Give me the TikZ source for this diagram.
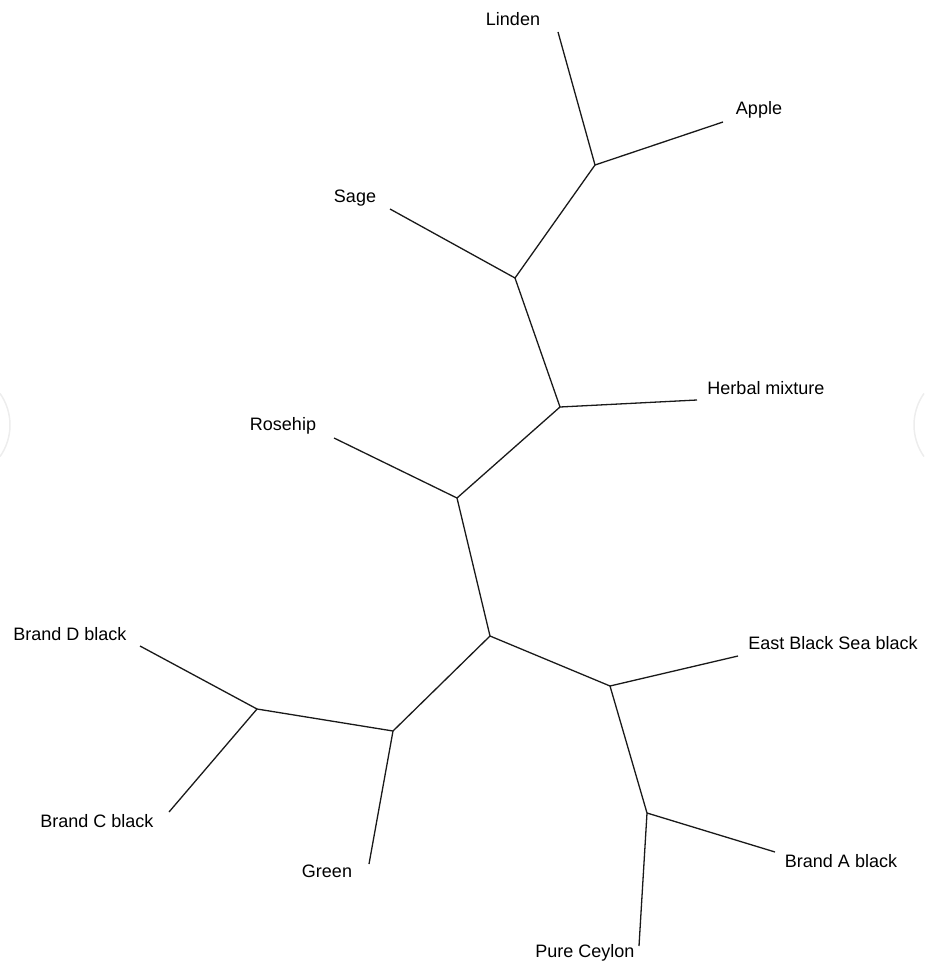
\documentclass[tikz,border=0pt]{standalone}
\usepackage{fontspec}
\setmainfont{Liberation Sans}
\usetikzlibrary{positioning}

\begin{document}
\begin{tikzpicture}[x=1pt,y=-1pt,
  every node/.style={font=\fontsize{18}{20}\selectfont,inner sep=0pt},
  e/.style={line width=1.3pt,draw=black!90},
  ghost/.style={line width=1.5pt,draw=black!7}]
\useasboundingbox (0,0) rectangle (924,968);
% inner junctions
\coordinate (TeaJ1) at (595,165);
\coordinate (TeaJ2) at (515,278);
\coordinate (TeaJ3) at (560,407);
\coordinate (TeaJ4) at (457,498);
\coordinate (TeaJ5) at (490,636);
\coordinate (TeaJ6) at (393,731);
\coordinate (TeaJ7) at (257,709);
\coordinate (TeaJ8) at (610,686);
\coordinate (TeaJ9) at (647,813);
% leaf ends
\coordinate (TeaLindenEnd) at (558,32);
\coordinate (TeaAppleEnd) at (723,122);
\coordinate (TeaSageEnd) at (390,209);
\coordinate (TeaHerbalEnd) at (697,400);
\coordinate (TeaRosehipEnd) at (334,438);
\coordinate (TeaBrandDEnd) at (140,646);
\coordinate (TeaBrandCEnd) at (169,812);
\coordinate (TeaGreenEnd) at (369,864);
\coordinate (TeaEastEnd) at (738,656);
\coordinate (TeaBrandAEnd) at (775,852);
\coordinate (TeaCeylonEnd) at (639,946);
% labels
\node (TeaLinden) at (513,19) {Linden};
\node (TeaApple) at (759,110) {Apple};
\node (TeaSage) at (355,198) {Sage};
\node (TeaHerbal) at (766,388) {Herbal mixture};
\node (TeaRosehip) at (283,426) {Rosehip};
\node (TeaBrandD) at (70,634) {Brand D black};
\node (TeaBrandC) at (97,821) {Brand C black};
\node (TeaGreen) at (327,871) {Green};
\node (TeaEast) at (833,643) {East Black Sea black};
\node (TeaBrandA) at (841,861) {Brand A black};
\node (TeaCeylon) at (585,953) {Pure Ceylon};
% faint marks at the edges
\draw[ghost] (-45,425) ++(-35:55) arc[start angle=-35,end angle=35,radius=55];
\draw[ghost] (969,425) ++(145:55) arc[start angle=145,end angle=215,radius=55];
% tree
\draw[e] (TeaJ1) -- (TeaLindenEnd);
\draw[e] (TeaJ1) -- (TeaAppleEnd);
\draw[e] (TeaJ2) -- (TeaJ1);
\draw[e] (TeaJ2) -- (TeaSageEnd);
\draw[e] (TeaJ3) -- (TeaJ2);
\draw[e] (TeaJ3) -- (TeaHerbalEnd);
\draw[e] (TeaJ4) -- (TeaJ3);
\draw[e] (TeaJ4) -- (TeaRosehipEnd);
\draw[e] (TeaJ5) -- (TeaJ4);
\draw[e] (TeaJ5) -- (TeaJ6);
\draw[e] (TeaJ6) -- (TeaJ7);
\draw[e] (TeaJ7) -- (TeaBrandDEnd);
\draw[e] (TeaJ7) -- (TeaBrandCEnd);
\draw[e] (TeaJ6) -- (TeaGreenEnd);
\draw[e] (TeaJ5) -- (TeaJ8);
\draw[e] (TeaJ8) -- (TeaEastEnd);
\draw[e] (TeaJ8) -- (TeaJ9);
\draw[e] (TeaJ9) -- (TeaBrandAEnd);
\draw[e] (TeaJ9) -- (TeaCeylonEnd);
\end{tikzpicture}
\end{document}
